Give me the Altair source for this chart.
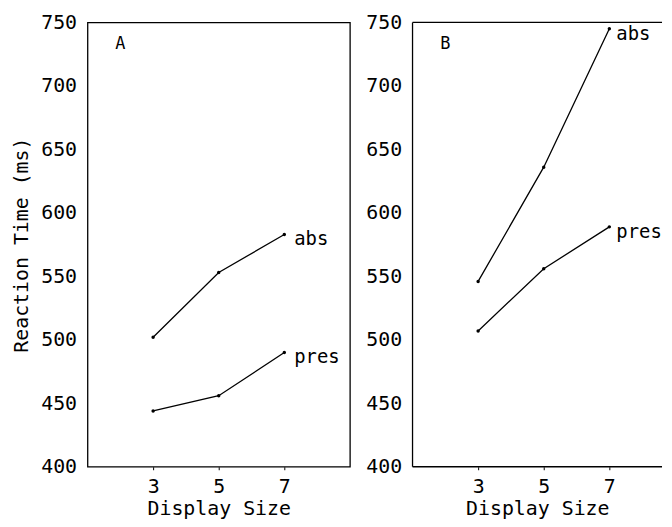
import altair as alt
import pandas as pd

display_sizes = [3, 5, 7]
panels = ["A", "B"]
conditions = ["abs", "pres"]
a_abs = [502, 553, 583]
a_pres = [444, 456, 490]
b_abs = [546, 636, 745]
b_pres = [507, 556, 589]
y_ticks = [400, 450, 500, 550, 600, 650, 700, 750]

series = {("A", "abs"): a_abs, ("A", "pres"): a_pres,
          ("B", "abs"): b_abs, ("B", "pres"): b_pres}
rows = []
for (p, c), vals in series.items():
    for s, v in zip(display_sizes, vals):
        rows.append({"panel": p, "cond": c, "size": s, "rt": v})
df = pd.DataFrame(rows)

FONT = "DejaVu Sans Mono"
H = 447
PX_PER_UNIT = 33.0


def panel(p, show_title, width, framed, label_dx):
    d = df[df.panel == p]
    last = d[d["size"] == display_sizes[-1]]
    xmax = 1 + width / PX_PER_UNIT
    x = alt.X("size:Q", scale=alt.Scale(domain=[1, xmax], nice=False, zero=False),
              axis=alt.Axis(values=display_sizes, title="Display Size", grid=False,
                            domain=False, tickSize=3, tickColor="black",
                            labelPadding=7, titlePadding=2))
    y = alt.Y("rt:Q", scale=alt.Scale(domain=[400, 750], nice=False, zero=False),
              axis=alt.Axis(values=y_ticks, title="Reaction Time (ms)" if show_title else None,
                            grid=False, domain=False, ticks=False, labelPadding=11,
                            titlePadding=9))
    line = alt.Chart(d).mark_line(color="black", strokeWidth=1.3).encode(
        x=x, y=y, detail="cond:N")
    pts = alt.Chart(d).mark_point(filled=True, color="black", size=12, opacity=1).encode(
        x="size:Q", y="rt:Q")
    lab = alt.Chart(last).mark_text(align="left", baseline="middle", dx=label_dx, dy=5,
                                   font=FONT, fontSize=19, color="black",
                                   clip=True).encode(
        x="size:Q", y="rt:Q", text="cond:N")
    letter = alt.Chart(pd.DataFrame({"t": [p]})).mark_text(
        align="center", baseline="middle", font=FONT, fontSize=17, color="black").encode(
        x=alt.value(33), y=alt.value(22), text="t:N")
    layers = [line, pts, lab, letter]
    if not framed:
        fr = alt.Chart(pd.DataFrame({"t": [p]}))
        layers += [
            fr.mark_rule(color="black", strokeWidth=1.3).encode(
                x=alt.value(0), x2=alt.value(width), y=alt.value(0)),
            fr.mark_rule(color="black", strokeWidth=1.3).encode(
                x=alt.value(0), x2=alt.value(width), y=alt.value(H)),
            fr.mark_rule(color="black", strokeWidth=1.3).encode(
                x=alt.value(0), y=alt.value(0), y2=alt.value(H)),
        ]
    view = alt.ViewBackground(stroke="black" if framed else "transparent", strokeWidth=1.3)
    return alt.layer(*layers).properties(width=width, height=H, view=view)


chart = alt.hconcat(panel("A", True, 264, True, 10), panel("B", False, 251, False, 7),
                    spacing=14).configure_axis(
    labelFont=FONT, titleFont=FONT, labelFontSize=20, titleFontSize=20,
    labelColor="black", titleColor="black", titleFontWeight="normal"
).properties(padding={"left": 3, "top": 2, "right": 0, "bottom": 0}, background="white")

chart.save("out.html", embed_options={"renderer": "svg", "actions": False})
